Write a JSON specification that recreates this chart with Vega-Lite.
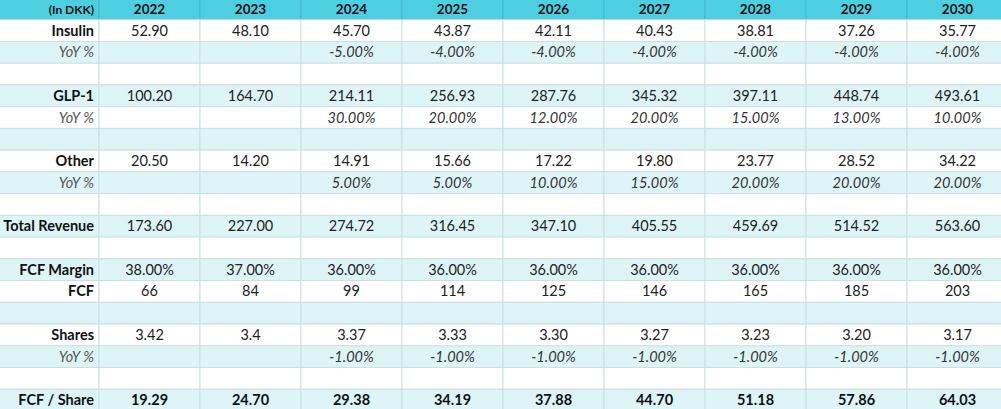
{
  "$schema": "https://vega.github.io/schema/vega-lite/v6.json",
  "width": 1001,
  "height": 409,
  "autosize": "none",
  "padding": 0,
  "background": "white",
  "config": {"view": {"stroke": null}, "text": {"font": "Lato", "fontSize": 14.5}},
  "data": {
    "values": [
      {"row": 0, "kind": "header", "label": "(In DKK)", "y2022": "2022", "y2023": "2023", "y2024": "2024", "y2025": "2025", "y2026": "2026", "y2027": "2027", "y2028": "2028", "y2029": "2029", "y2030": "2030"},
      {"row": 1, "kind": "main", "label": "Insulin", "y2022": "52.90", "y2023": "48.10", "y2024": "45.70", "y2025": "43.87", "y2026": "42.11", "y2027": "40.43", "y2028": "38.81", "y2029": "37.26", "y2030": "35.77"},
      {"row": 2, "kind": "yoy", "label": "YoY %", "y2022": "", "y2023": "", "y2024": "-5.00%", "y2025": "-4.00%", "y2026": "-4.00%", "y2027": "-4.00%", "y2028": "-4.00%", "y2029": "-4.00%", "y2030": "-4.00%"},
      {"row": 3, "kind": "blank", "label": ""},
      {"row": 4, "kind": "main", "label": "GLP-1", "y2022": "100.20", "y2023": "164.70", "y2024": "214.11", "y2025": "256.93", "y2026": "287.76", "y2027": "345.32", "y2028": "397.11", "y2029": "448.74", "y2030": "493.61"},
      {"row": 5, "kind": "yoy", "label": "YoY %", "y2022": "", "y2023": "", "y2024": "30.00%", "y2025": "20.00%", "y2026": "12.00%", "y2027": "20.00%", "y2028": "15.00%", "y2029": "13.00%", "y2030": "10.00%"},
      {"row": 6, "kind": "blank", "label": ""},
      {"row": 7, "kind": "main", "label": "Other", "y2022": "20.50", "y2023": "14.20", "y2024": "14.91", "y2025": "15.66", "y2026": "17.22", "y2027": "19.80", "y2028": "23.77", "y2029": "28.52", "y2030": "34.22"},
      {"row": 8, "kind": "yoy", "label": "YoY %", "y2022": "", "y2023": "", "y2024": "5.00%", "y2025": "5.00%", "y2026": "10.00%", "y2027": "15.00%", "y2028": "20.00%", "y2029": "20.00%", "y2030": "20.00%"},
      {"row": 9, "kind": "blank", "label": ""},
      {"row": 10, "kind": "main", "label": "Total Revenue", "y2022": "173.60", "y2023": "227.00", "y2024": "274.72", "y2025": "316.45", "y2026": "347.10", "y2027": "405.55", "y2028": "459.69", "y2029": "514.52", "y2030": "563.60"},
      {"row": 11, "kind": "blank", "label": ""},
      {"row": 12, "kind": "main", "label": "FCF Margin", "y2022": "38.00%", "y2023": "37.00%", "y2024": "36.00%", "y2025": "36.00%", "y2026": "36.00%", "y2027": "36.00%", "y2028": "36.00%", "y2029": "36.00%", "y2030": "36.00%"},
      {"row": 13, "kind": "main", "label": "FCF", "y2022": "66", "y2023": "84", "y2024": "99", "y2025": "114", "y2026": "125", "y2027": "146", "y2028": "165", "y2029": "185", "y2030": "203"},
      {"row": 14, "kind": "blank", "label": ""},
      {"row": 15, "kind": "main", "label": "Shares", "y2022": "3.42", "y2023": "3.4", "y2024": "3.37", "y2025": "3.33", "y2026": "3.30", "y2027": "3.27", "y2028": "3.23", "y2029": "3.20", "y2030": "3.17"},
      {"row": 16, "kind": "yoy", "label": "YoY %", "y2022": "", "y2023": "", "y2024": "-1.00%", "y2025": "-1.00%", "y2026": "-1.00%", "y2027": "-1.00%", "y2028": "-1.00%", "y2029": "-1.00%", "y2030": "-1.00%"},
      {"row": 17, "kind": "blank", "label": ""},
      {"row": 18, "kind": "total", "label": "FCF / Share", "y2022": "19.29", "y2023": "24.70", "y2024": "29.38", "y2025": "34.19", "y2026": "37.88", "y2027": "44.70", "y2028": "51.18", "y2029": "57.86", "y2030": "64.03"}
    ]
  },
  "transform": [
    {"fold": ["label", "y2022", "y2023", "y2024", "y2025", "y2026", "y2027", "y2028", "y2029", "y2030"], "as": ["col", "text"]}
  ],
  "encoding": {
    "x": {
      "field": "col", "type": "nominal", "axis": null,
      "scale": {"domain": ["label", "y2022", "y2023", "y2024", "y2025", "y2026", "y2027", "y2028", "y2029", "y2030"], "range": [-2, 1008], "paddingInner": 0, "paddingOuter": 0}
    },
    "y": {
      "field": "row", "type": "ordinal", "axis": null,
      "scale": {"range": [-2, 411], "paddingInner": 0, "paddingOuter": 0}
    }
  },
  "layer": [
    {
      "mark": {"type": "rect", "strokeWidth": 1, "clip": true},
      "encoding": {
        "fill": {
          "condition": [
            {"test": "datum.row === 0", "value": "#4ecfe1"},
            {"test": "datum.row % 2 === 0", "value": "#def5f8"}
          ],
          "value": "#ffffff"
        },
        "stroke": {
          "condition": {"test": "datum.row === 0", "value": "#45b9c9"},
          "value": "#cddfe3"
        }
      }
    },
    {
      "transform": [{"filter": "datum.col === 'label' && datum.kind === 'header'"}],
      "mark": {"type": "text", "align": "right", "baseline": "middle", "dx": -5, "dy": 1, "fontSize": 12, "fontWeight": "bold", "color": "#111111", "clip": true},
      "encoding": {
        "x": {"field": "col", "type": "nominal", "bandPosition": 1},
        "text": {"field": "text"}
      }
    },
    {
      "transform": [{"filter": "datum.col === 'label' && (datum.kind === 'main' || datum.kind === 'total')"}],
      "mark": {"type": "text", "align": "right", "baseline": "middle", "dx": -5, "dy": 1, "fontWeight": "bold", "color": "#111111", "clip": true},
      "encoding": {
        "x": {"field": "col", "type": "nominal", "bandPosition": 1},
        "text": {"field": "text"}
      }
    },
    {
      "transform": [{"filter": "datum.col === 'label' && datum.kind === 'yoy'"}],
      "mark": {"type": "text", "align": "right", "baseline": "middle", "dx": -5, "dy": 1, "fontStyle": "italic", "color": "#555555", "clip": true},
      "encoding": {
        "x": {"field": "col", "type": "nominal", "bandPosition": 1},
        "text": {"field": "text"}
      }
    },
    {
      "transform": [{"filter": "datum.col !== 'label' && isValid(datum.text) && datum.text !== '' && datum.kind === 'main'"}],
      "mark": {"type": "text", "align": "center", "baseline": "middle", "dy": 1, "color": "#222222", "clip": true},
      "encoding": {"text": {"field": "text"}}
    },
    {
      "transform": [{"filter": "datum.col !== 'label' && isValid(datum.text) && datum.text !== '' && datum.kind === 'yoy'"}],
      "mark": {"type": "text", "align": "center", "baseline": "middle", "dy": 1, "fontStyle": "italic", "color": "#333333", "clip": true},
      "encoding": {"text": {"field": "text"}}
    },
    {
      "transform": [{"filter": "datum.col !== 'label' && isValid(datum.text) && datum.text !== '' && datum.kind === 'header'"}],
      "mark": {"type": "text", "align": "center", "baseline": "middle", "dy": 1, "fontSize": 13.5, "fontWeight": "bold", "color": "#111111", "clip": true},
      "encoding": {"text": {"field": "text"}}
    },
    {
      "transform": [{"filter": "datum.col !== 'label' && isValid(datum.text) && datum.text !== '' && datum.kind === 'total'"}],
      "mark": {"type": "text", "align": "center", "baseline": "middle", "dy": 1, "fontWeight": "bold", "color": "#111111", "clip": true},
      "encoding": {"text": {"field": "text"}}
    }
  ]
}
